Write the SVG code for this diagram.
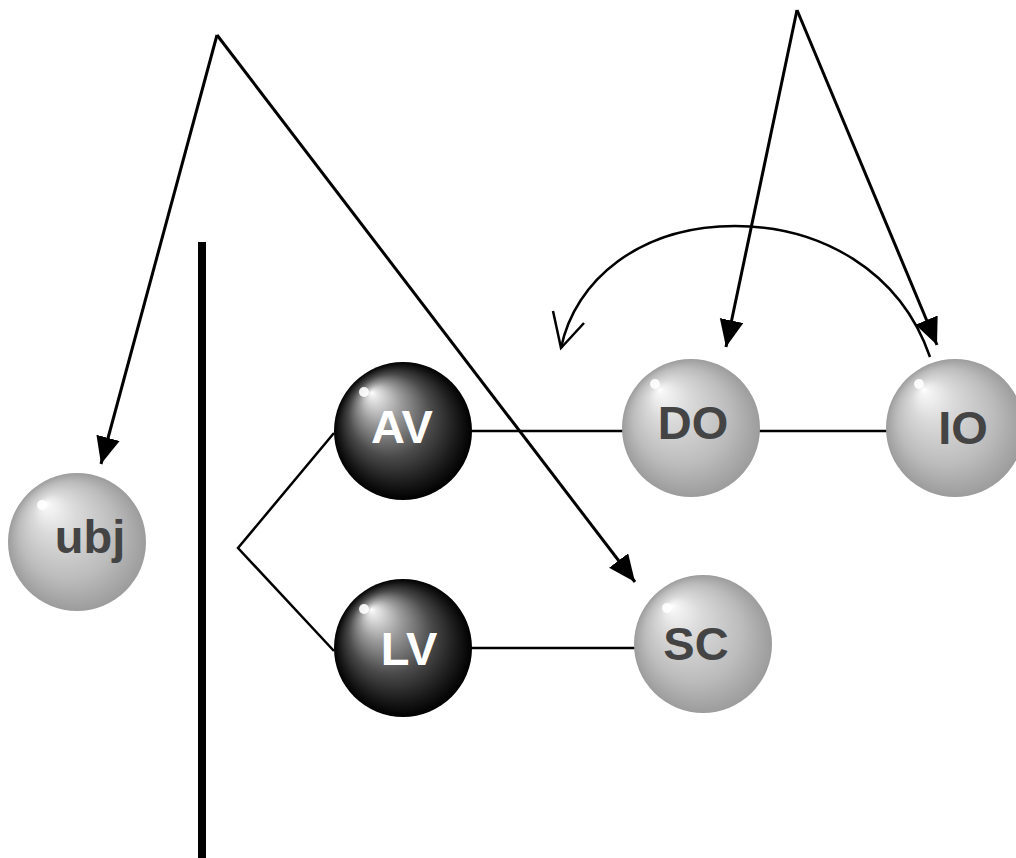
<svg xmlns="http://www.w3.org/2000/svg" width="1016" height="858" viewBox="0 0 1016 858">
<defs>
<radialGradient id="gGray" cx="0.5" cy="0.5" r="0.5" fx="0.27" fy="0.22">
<stop offset="0" stop-color="#ffffff"/>
<stop offset="0.06" stop-color="#f4f4f4"/>
<stop offset="0.3" stop-color="#dadada"/>
<stop offset="0.7" stop-color="#bcbcbc"/>
<stop offset="1" stop-color="#9c9c9c"/>
</radialGradient>
<radialGradient id="gDark" cx="0.5" cy="0.5" r="0.5" fx="0.27" fy="0.22">
<stop offset="0" stop-color="#ffffff"/>
<stop offset="0.06" stop-color="#e6e6e6"/>
<stop offset="0.3" stop-color="#9a9a9a"/>
<stop offset="0.6" stop-color="#4a4a4a"/>
<stop offset="0.85" stop-color="#1a1a1a"/>
<stop offset="1" stop-color="#000000"/>
</radialGradient>
<marker id="ah" markerUnits="userSpaceOnUse" markerWidth="30" markerHeight="26" refX="27" refY="12" orient="auto">
<path d="M0,0 L27,12 L0,24 Z" fill="#000"/>
</marker>
<style>
.conn{stroke:#000;stroke-width:2.5;fill:none}
.arr{stroke:#000;stroke-width:3;fill:none}
.lbl{font-family:"Liberation Sans",Arial,sans-serif;font-weight:bold;font-size:47px;text-anchor:middle}
.lg{fill:#444}
.ld{fill:#fff}
.hl{fill:#fff;opacity:0.9}
</style>
</defs>
<rect width="1016" height="858" fill="#fff"/>
<rect x="198" y="242" width="8" height="616" fill="#000"/>
<g id="connectors">
<line class="conn" x1="470" y1="431" x2="624" y2="431"/>
<line class="conn" x1="758" y1="431" x2="888" y2="431"/>
<line class="conn" x1="470" y1="648" x2="636" y2="648"/>
<polyline class="conn" points="334,433 238,548 334,651"/>
<line class="arr" x1="217" y1="35" x2="101" y2="464" marker-end="url(#ah)"/>
<line class="arr" x1="217" y1="35" x2="635" y2="582" marker-end="url(#ah)"/>
<line class="arr" x1="797" y1="10" x2="726" y2="347" marker-end="url(#ah)"/>
<line class="arr" x1="797" y1="10" x2="937" y2="345" marker-end="url(#ah)"/>
<path class="conn" d="M 930 357 C 900 270, 820 226, 735 226 C 640 226, 575 280, 561 348"/>
<polyline class="conn" points="553,311 561,348 584,323"/>
</g>
<g id="ubj">
<circle cx="77" cy="542" r="69" fill="url(#gGray)"/>
<circle class="hl" cx="42" cy="505" r="5"/>
<text class="lbl lg" x="90" y="553">ubj</text>
</g>
<g id="AV">
<circle cx="403" cy="431" r="69" fill="url(#gDark)"/>
<circle class="hl" cx="364" cy="392" r="5"/>
<text class="lbl ld" x="402" y="443">AV</text>
</g>
<g id="LV">
<circle cx="403" cy="648" r="69" fill="url(#gDark)"/>
<circle class="hl" cx="364" cy="609" r="5"/>
<text class="lbl ld" x="409" y="665">LV</text>
</g>
<g id="DO">
<circle cx="691" cy="428" r="69" fill="url(#gGray)"/>
<circle class="hl" cx="655" cy="384" r="5"/>
<text class="lbl lg" x="693" y="439">DO</text>
</g>
<g id="IO">
<circle cx="955" cy="428" r="69" fill="url(#gGray)"/>
<circle class="hl" cx="919" cy="384" r="5"/>
<text class="lbl lg" x="963" y="444">IO</text>
</g>
<g id="SC">
<circle cx="703" cy="644" r="69" fill="url(#gGray)"/>
<circle class="hl" cx="667" cy="608" r="5"/>
<text class="lbl lg" x="696" y="660">SC</text>
</g>
</svg>
